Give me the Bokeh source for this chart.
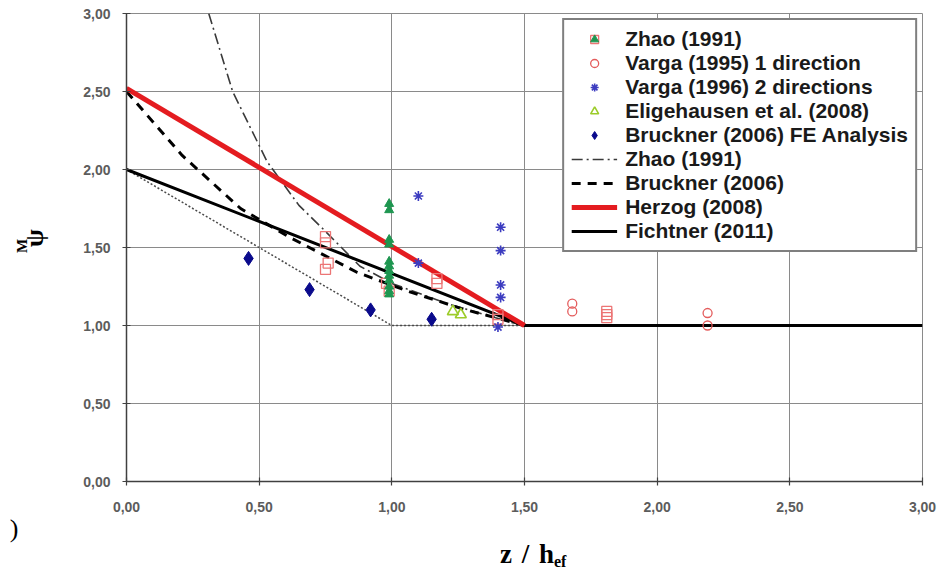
from bokeh.plotting import figure
from bokeh.models import FixedTicker, Legend, LegendItem, Div
from bokeh.layouts import row, column
from bokeh.embed import file_html
from bokeh.resources import INLINE

# Axis ticks and their labels (decimal comma)
x_ticks = [0.0, 0.5, 1.0, 1.5, 2.0, 2.5, 3.0]
x_tick_labels = ["0,00", "0,50", "1,00", "1,50", "2,00", "2,50", "3,00"]
y_ticks = [0.0, 0.5, 1.0, 1.5, 2.0, 2.5, 3.0]
y_tick_labels = ["0,00", "0,50", "1,00", "1,50", "2,00", "2,50", "3,00"]

# Test results
zhao_sq_x = [0.75, 0.75, 0.76, 0.75, 0.98, 0.99, 1.17, 1.17, 1.40, 1.40, 1.81, 1.81, 1.81]
zhao_sq_y = [1.57, 1.53, 1.40, 1.36, 1.27, 1.22, 1.30, 1.27, 1.07, 1.04, 1.09, 1.07, 1.05]
zhao_tri_x = [0.99, 0.99, 0.99, 0.99, 0.99, 0.99, 0.99, 0.99, 0.99, 0.99, 0.99, 0.99]
zhao_tri_y = [1.78, 1.74, 1.55, 1.52, 1.41, 1.38, 1.35, 1.32, 1.29, 1.25, 1.22, 1.20]
varga95_x = [1.68, 1.68, 2.19, 2.19]
varga95_y = [1.14, 1.09, 1.08, 1.00]
varga96_x = [1.10, 1.10, 1.41, 1.41, 1.41, 1.41, 1.40]
varga96_y = [1.83, 1.40, 1.63, 1.48, 1.26, 1.18, 0.99]
elig_x = [1.23, 1.26]
elig_y = [1.09, 1.07]
bruckner_fe_x = [0.46, 0.69, 0.92, 1.15]
bruckner_fe_y = [1.43, 1.23, 1.10, 1.04]

# Design curves
zhao_line_x = [0.31, 0.40, 0.53, 0.65, 0.74, 0.88, 1.00, 1.21, 1.45, 1.50]
zhao_line_y = [3.00, 2.50, 2.05, 1.77, 1.62, 1.38, 1.27, 1.14, 1.02, 1.00]
bruckner_x = [0.00, 0.21, 0.43, 0.61, 0.87, 1.06, 1.26, 1.50]
bruckner_y = [2.50, 2.09, 1.75, 1.57, 1.34, 1.22, 1.11, 1.00]
herzog_x = [0.0, 1.5]
herzog_y = [2.52, 1.00]
fichtner_x = [0.0, 1.5, 3.0]
fichtner_y = [2.0, 1.0, 1.0]
bound_x = [0.0, 1.0, 1.5]
bound_y = [2.0, 1.0, 1.0]

SIDE_W = 50      # strip on the left holding the y-axis title
BOTTOM_H = 42    # strip below holding the x-axis title

p = figure(width=940 - SIDE_W, height=572 - BOTTOM_H, x_range=(0, 3), y_range=(0, 3),
           output_backend="svg", toolbar_location=None,
           min_border_left=126 - SIDE_W, min_border_right=18,
           min_border_top=13, min_border_bottom=49)
p.background_fill_color = "white"
p.border_fill_color = "white"
p.outline_line_color = "#8a8a8a"
p.outline_line_width = 1

for ax, ticks, labels in ((p.xaxis, x_ticks, x_tick_labels), (p.yaxis, y_ticks, y_tick_labels)):
    ax.ticker = FixedTicker(ticks=ticks)
    ax.major_label_overrides = dict(zip(ticks, labels))
    ax.minor_tick_line_color = None
    ax.major_tick_in = 4
    ax.major_tick_out = 4
    ax.axis_line_color = "#404040"
    ax.axis_line_width = 1.5
    ax.major_tick_line_color = "#404040"
    ax.major_tick_line_width = 1.2
    ax.major_label_text_font = "Liberation Sans"
    ax.major_label_text_font_style = "bold"
    ax.major_label_text_font_size = "14px"
    ax.major_label_text_color = "#5c5c5c"
p.xaxis.major_label_standoff = 16
p.yaxis.major_label_standoff = 12

p.grid.grid_line_color = "#8a8a8a"
p.grid.grid_line_width = 1
p.grid.grid_line_alpha = 1

# Curves
p.line(bound_x, bound_y, line_color="#4a4a4a", line_width=1.5, line_dash="2 2")
r_zhao_line = p.line(zhao_line_x, zhao_line_y, line_color="#3a3a3a", line_width=1.6,
                     line_dash="11 4 2 4")
r_bruckner = p.line(bruckner_x, bruckner_y, line_color="black", line_width=3,
                    line_dash="9 7")
r_fichtner = p.line(fichtner_x, fichtner_y, line_color="black", line_width=3)
r_herzog = p.line(herzog_x, herzog_y, line_color="#e41c20", line_width=5)

# Tests
r_sq = p.scatter(zhao_sq_x, zhao_sq_y, marker="square", size=10, fill_color=None,
                 line_color="#ec7575", line_width=1.3)
r_tri = p.scatter(zhao_tri_x, zhao_tri_y, marker="triangle", size=9,
                  fill_color="#1e9650", line_color="#1e9650")
r_v95 = p.scatter(varga95_x, varga95_y, marker="circle", size=9, fill_color=None,
                  line_color="#e45c5c", line_width=1.3)
r_v96 = p.scatter(varga96_x, varga96_y, marker="asterisk", size=10,
                  line_color="#3c3cc0", line_width=1.6)
r_elig = p.scatter(elig_x, elig_y, marker="triangle", size=11, fill_color=None,
                   line_color="#9ccc2a", line_width=1.6)
r_bfe = p.scatter(bruckner_fe_x, bruckner_fe_y, marker="diamond", size=14,
                  fill_color="#0a0a8c", line_color="#0a0a8c")

items = [
    LegendItem(label="Zhao (1991)", renderers=[r_sq, r_tri]),
    LegendItem(label="Varga (1995) 1 direction", renderers=[r_v95]),
    LegendItem(label="Varga (1996) 2 directions", renderers=[r_v96]),
    LegendItem(label="Eligehausen et al. (2008)", renderers=[r_elig]),
    LegendItem(label="Bruckner (2006) FE Analysis", renderers=[r_bfe]),
    LegendItem(label="Zhao (1991)", renderers=[r_zhao_line]),
    LegendItem(label="Bruckner (2006)", renderers=[r_bruckner]),
    LegendItem(label="Herzog (2008)", renderers=[r_herzog]),
    LegendItem(label="Fichtner (2011)", renderers=[r_fichtner]),
]
legend = Legend(items=items, location="top_right",
                label_text_font="Liberation Sans", label_text_font_style="bold",
                label_text_font_size="21px", label_text_color="#1a1a1a",
                label_height=20, glyph_height=20, glyph_width=46,
                label_standoff=8, spacing=0, padding=7, margin=5,
                border_line_color="black", border_line_width=2,
                background_fill_color="white", background_fill_alpha=1)
p.add_layout(legend)

# Axis titles drawn as SVG text (rotation and subscripts)
SERIF = "font-family:'Liberation Serif',serif;fill:black;"
ylab_svg = (
    f'<svg xmlns="http://www.w3.org/2000/svg" width="{SIDE_W}" height="572" '
    'style="display:block;overflow:visible">'
    f'<text x="34" y="238" transform="rotate(-90 34 238)" text-anchor="middle" '
    f'dominant-baseline="central" style="{SERIF}font-weight:bold;font-size:26px;">ψ</text>'
    f'<text x="22" y="246" transform="rotate(-90 22 246)" text-anchor="middle" '
    f'dominant-baseline="central" style="{SERIF}font-weight:bold;font-size:15px;">M</text>'
    f'<text x="14" y="528" text-anchor="middle" dominant-baseline="central" '
    f'style="{SERIF}font-weight:normal;font-size:26px;">)</text>'
    '</svg>'
)
xlab_svg = (
    f'<svg xmlns="http://www.w3.org/2000/svg" width="{940 - SIDE_W}" height="{BOTTOM_H}" '
    'style="display:block;overflow:visible">'
    f'<text x="450" y="33" style="{SERIF}font-weight:bold;font-size:27px;word-spacing:3px;">'
    'z / h<tspan dy="4" style="font-size:16px;">ef</tspan></text>'
    '</svg>'
)
left_div = Div(text=ylab_svg, width=SIDE_W, height=572, margin=(0, 0, 0, 0))
bottom_div = Div(text=xlab_svg, width=940 - SIDE_W, height=BOTTOM_H, margin=(0, 0, 0, 0))

layout = row(left_div, column(p, bottom_div, spacing=0), spacing=0)

open("out.html", "w").write(file_html(layout, INLINE))
